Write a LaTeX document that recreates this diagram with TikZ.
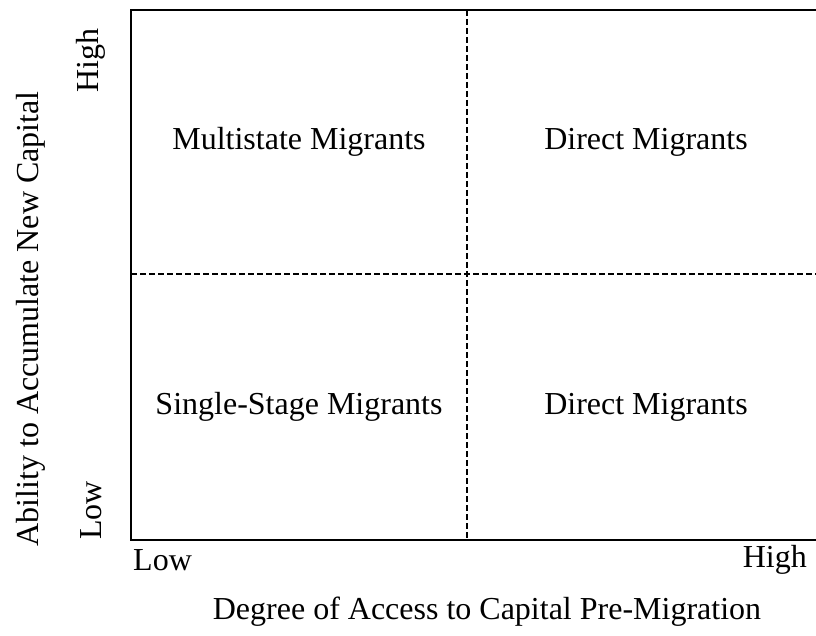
\documentclass[tikz,border=0pt]{standalone}
\usepackage{fontspec}
\setmainfont{Liberation Serif}
\begin{document}
\begin{tikzpicture}[x=1pt,y=-1pt,
  lbl/.style={font=\fontsize{32}{38}\selectfont, inner sep=0pt},
  frame/.style={line width=2pt},
  divider/.style={line width=1.5pt, dash pattern=on 6pt off 3pt}]
\useasboundingbox (0,0) rectangle (816,636);
\coordinate (tl) at (131,10);
\coordinate (bl) at (131,540);
\coordinate (br) at (830,540);
\coordinate (tr) at (830,10);
\draw[frame] (tr) -- (tl) -- (bl) -- (br);
\coordinate (vt) at (467,10);
\coordinate (vb) at (467,540);
\coordinate (hl) at (131,274);
\coordinate (hr) at (830,274);
\draw[divider] (vt) -- (vb);
\draw[divider] (hl) -- (hr);
\node[lbl] (q1) at (299,142) {Multistate Migrants};
\node[lbl] (q2) at (646,142) {Direct Migrants};
\node[lbl] (q3) at (299,407) {Single-Stage Migrants};
\node[lbl] (q4) at (646,407) {Direct Migrants};
\node[lbl, anchor=west] (xlow) at (133,560) {Low};
\node[lbl, anchor=east] (xhigh) at (807,560) {High};
\node[lbl] (xtitle) at (487,612) {Degree of Access to Capital Pre-Migration};
\node[lbl, rotate=90, anchor=east] (yhigh) at (91,28) {High};
\node[lbl, rotate=90, anchor=west] (ylow) at (91,540) {Low};
\node[lbl, rotate=90] (ytitle) at (31,319) {Ability to Accumulate New Capital};
\end{tikzpicture}
\end{document}
